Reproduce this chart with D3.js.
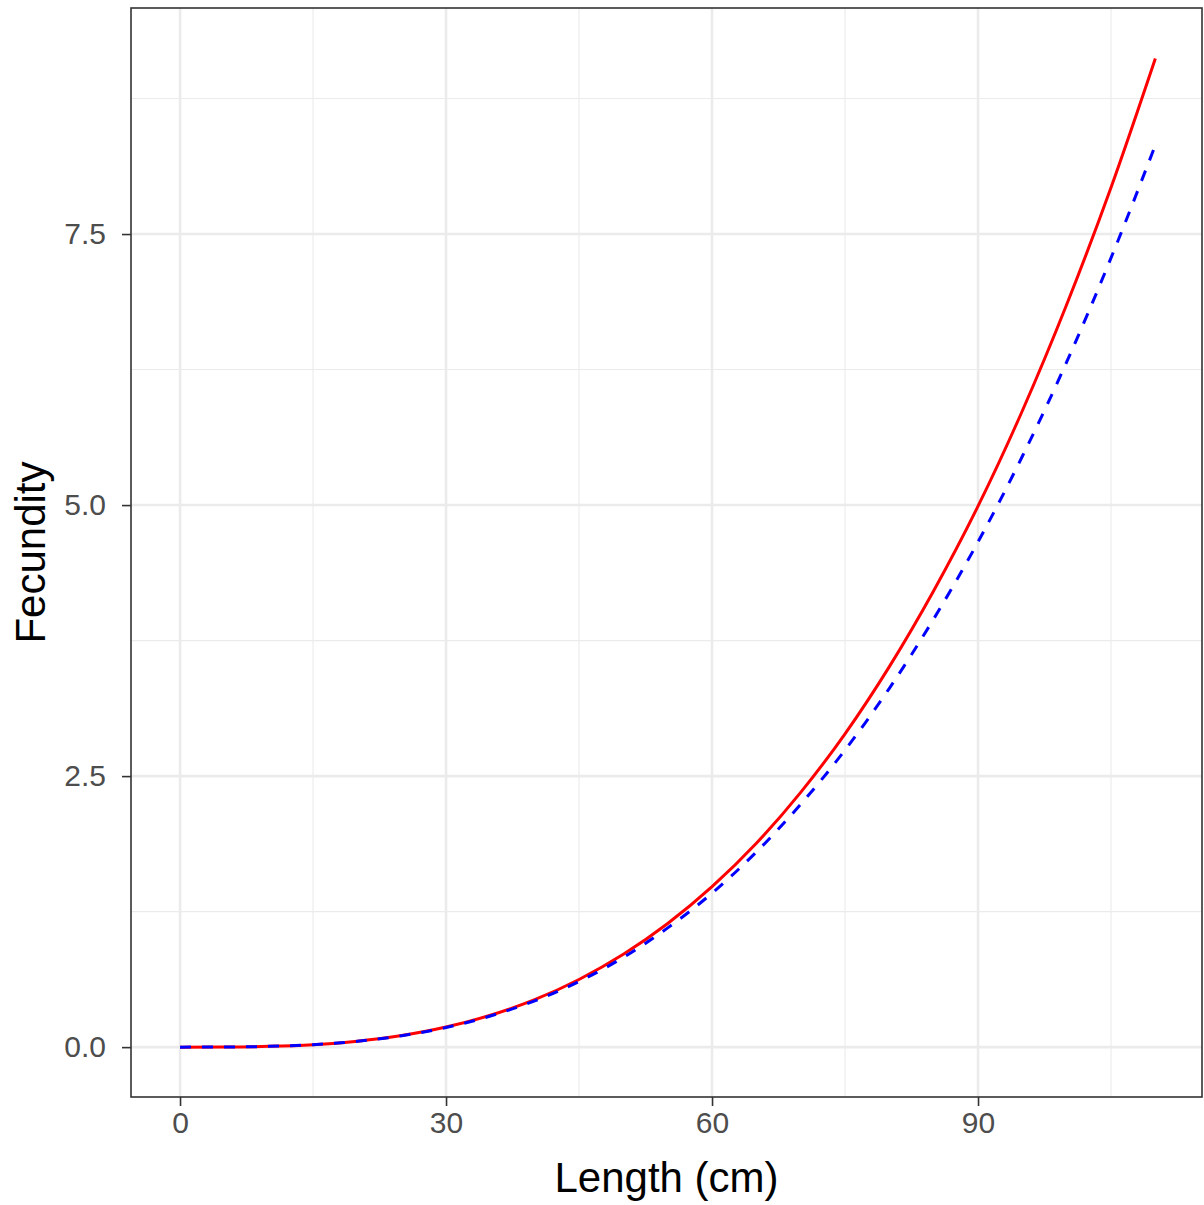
<!DOCTYPE html>
<html><head><meta charset="utf-8">
<script src="https://cdn.jsdelivr.net/npm/d3@7"></script>
<style>body{margin:0;background:#fff}text{font-family:Arial,"Liberation Sans",sans-serif}</style>
</head><body><svg id="c" width="1204" height="1205"></svg>
<script>
const lengths = [0,5,10,15,20,25,30,35,40,45,50,55,60,65,70,75,80,85,90,95,100,105,110];
const fecundityRed = [0,0.001,0.007,0.023,0.055,0.107,0.185,0.294,0.438,0.624,0.856,1.14,1.48,1.88,2.35,2.89,3.51,4.21,4.99,5.87,6.85,7.93,9.12];
const fecundityBlue = [0,0.001,0.007,0.023,0.054,0.105,0.181,0.287,0.427,0.606,0.828,1.10,1.42,1.80,2.24,2.74,3.31,3.95,4.66,5.45,6.32,7.28,8.32];
const xTicks = [0,30,60,90], xMinor = [15,45,75,105];
const yTicks = [0,2.5,5,7.5], yMinor = [1.25,3.75,6.25,8.75];

const pLeft = 131, pRight = 1202, pTop = 8, pBottom = 1097;
const svg = d3.select("#c");
const x = d3.scaleLinear().domain([-5.53, 115.26]).range([pLeft, pRight]);
const y = d3.scaleLinear().domain([-0.46, 9.585]).range([pBottom, pTop]);

const g = svg.append("g");
g.selectAll(".vm").data(xMinor).join("line").attr("x1", d=>x(d)).attr("x2", d=>x(d)).attr("y1", pTop).attr("y2", pBottom).attr("stroke", "#ebebeb").attr("stroke-width", 1.1);
g.selectAll(".hm").data(yMinor).join("line").attr("y1", d=>y(d)).attr("y2", d=>y(d)).attr("x1", pLeft).attr("x2", pRight).attr("stroke", "#ebebeb").attr("stroke-width", 1.1);
g.selectAll(".vM").data(xTicks).join("line").attr("x1", d=>x(d)).attr("x2", d=>x(d)).attr("y1", pTop).attr("y2", pBottom).attr("stroke", "#ebebeb").attr("stroke-width", 2.6);
g.selectAll(".hM").data(yTicks).join("line").attr("y1", d=>y(d)).attr("y2", d=>y(d)).attr("x1", pLeft).attr("x2", pRight).attr("stroke", "#ebebeb").attr("stroke-width", 2.6);

const line = vals => d3.line().x((d,i)=>x(lengths[i])).y(d=>y(d)).curve(d3.curveMonotoneX)(vals);
svg.append("path").attr("d", line(fecundityRed)).attr("fill","none").attr("stroke","#ff0000").attr("stroke-width",3);
svg.append("path").attr("d", line(fecundityBlue)).attr("fill","none").attr("stroke","#0000ff").attr("stroke-width",3).attr("stroke-dasharray","11,11");

svg.append("rect").attr("x", pLeft).attr("y", pTop).attr("width", pRight-pLeft).attr("height", pBottom-pTop).attr("fill","none").attr("stroke","#333").attr("stroke-width",1.6);

const xa = svg.append("g").attr("transform", `translate(0,${pBottom})`).call(d3.axisBottom(x).tickValues(xTicks).tickSize(9).tickPadding(6).tickFormat(d3.format("d")));
const ya = svg.append("g").attr("transform", `translate(${pLeft},0)`).call(d3.axisLeft(y).tickValues(yTicks).tickSize(9).tickPadding(16).tickFormat(d3.format(".1f")));
[xa, ya].forEach(a => {
  a.select(".domain").remove();
  a.selectAll(".tick line").attr("stroke","#333").attr("stroke-width",1.6);
  a.selectAll(".tick text").attr("fill","#4d4d4d").attr("font-size",30);
});
svg.append("text").attr("x", (pLeft+pRight)/2).attr("y", 1192).attr("text-anchor","middle").attr("font-size",42).text("Length (cm)");
svg.append("text").attr("transform", `translate(45,${(pTop+pBottom)/2}) rotate(-90)`).attr("text-anchor","middle").attr("font-size",42).text("Fecundity");
</script></body></html>
